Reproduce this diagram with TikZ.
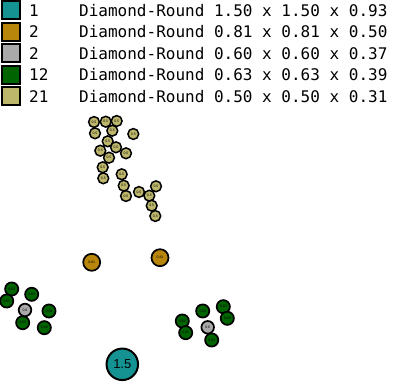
\documentclass[tikz,border=0pt]{standalone}
\usepackage{fontspec}
\setmainfont{Liberation Sans}
\setmonofont{DejaVu Sans Mono}
\definecolor{DiaTeal}{HTML}{159393}
\definecolor{DiaGold}{HTML}{B8860B}
\definecolor{DiaGray}{HTML}{A9A9A9}
\definecolor{DiaGreen}{HTML}{006400}
\definecolor{DiaKhaki}{HTML}{BDB76B}
\usepackage{tikz}

\begin{document}
\begin{tikzpicture}[x=1pt, y=-1pt,
    legbox/.style={draw=black, line width=2pt, minimum size=18pt, inner sep=0pt},
    legtxt/.style={anchor=west, inner sep=0pt, font=\fontsize{16}{16}\selectfont\ttfamily},
    dot/.style={circle, draw=black, line width=1.7pt, inner sep=0pt, font=\fontsize{3.5}{3.5}\selectfont},
    tealdot/.style={dot, fill=DiaTeal, minimum size=31.5pt, line width=2pt, font=\fontsize{13}{13}\selectfont},
    golddot/.style={dot, fill=DiaGold, minimum size=17pt},
    graydot/.style={dot, fill=DiaGray, minimum size=12.6pt},
    greendot/.style={dot, fill=DiaGreen, minimum size=13.2pt},
    khakidot/.style={dot, fill=DiaKhaki, minimum size=10.8pt, line width=1.5pt}]
  \useasboundingbox (0,0) rectangle (397,382);
  % legend
  \node[legbox, fill=DiaTeal] (k1) at (10.5,10.5) {};
  \node[legbox, fill=DiaGold] (k2) at (10.5,32) {};
  \node[legbox, fill=DiaGray] (k3) at (10.5,53.5) {};
  \node[legbox, fill=DiaGreen] (k4) at (10.5,75) {};
  \node[legbox, fill=DiaKhaki] (k5) at (10.5,96.5) {};
  \node[legtxt] (n1) at (29,10.5) {1};
  \node[legtxt] (n2) at (29,32) {2};
  \node[legtxt] (n3) at (29,53.5) {2};
  \node[legtxt] (n4) at (29,75) {12};
  \node[legtxt] (n5) at (29,96.5) {21};
  \node[legtxt] (d1) at (79,10.5) {Diamond-Round 1.50 x 1.50 x 0.93};
  \node[legtxt] (d2) at (79,32) {Diamond-Round 0.81 x 0.81 x 0.50};
  \node[legtxt] (d3) at (79,53.5) {Diamond-Round 0.60 x 0.60 x 0.37};
  \node[legtxt] (d4) at (79,75) {Diamond-Round 0.63 x 0.63 x 0.39};
  \node[legtxt] (d5) at (79,96.5) {Diamond-Round 0.50 x 0.50 x 0.31};
  % stones
  \foreach \px/\py [count=\i] in {94/122, 105.7/121.7, 116.7/121, 95/133.3, 112.3/130.7,
      133.3/134, 107.7/141.3, 116/147.3, 100.3/150.7, 126/153.3, 109/157.7,
      102.7/167.3, 103.3/178.3, 121.7/174.3, 123.7/185.7, 139/192, 156/186.3,
      126/196, 149.3/195.7, 151.7/205.7, 155.3/216}
    \node[khakidot] (kh\i) at (\px,\py) {0.5};
  \foreach \px/\py [count=\i] in {11.7/289, 6.7/301, 31.7/294.3, 49/311, 22.7/322.7,
      44.3/327.7, 202.7/311, 223.3/306.7, 182.3/321, 227.3/318.3, 185.7/332.7, 211.7/340}
    \node[greendot] (gr\i) at (\px,\py) {0.63};
  \node[graydot] (gy1) at (25,310) {0.6};
  \node[graydot] (gy2) at (207.7,327.3) {0.6};
  \node[golddot] (go1) at (91.7,262.3) {0.81};
  \node[golddot] (go2) at (160,257.7) {0.81};
  \node[tealdot] (te1) at (122.3,364.3) {1.5};
\end{tikzpicture}
\end{document}
